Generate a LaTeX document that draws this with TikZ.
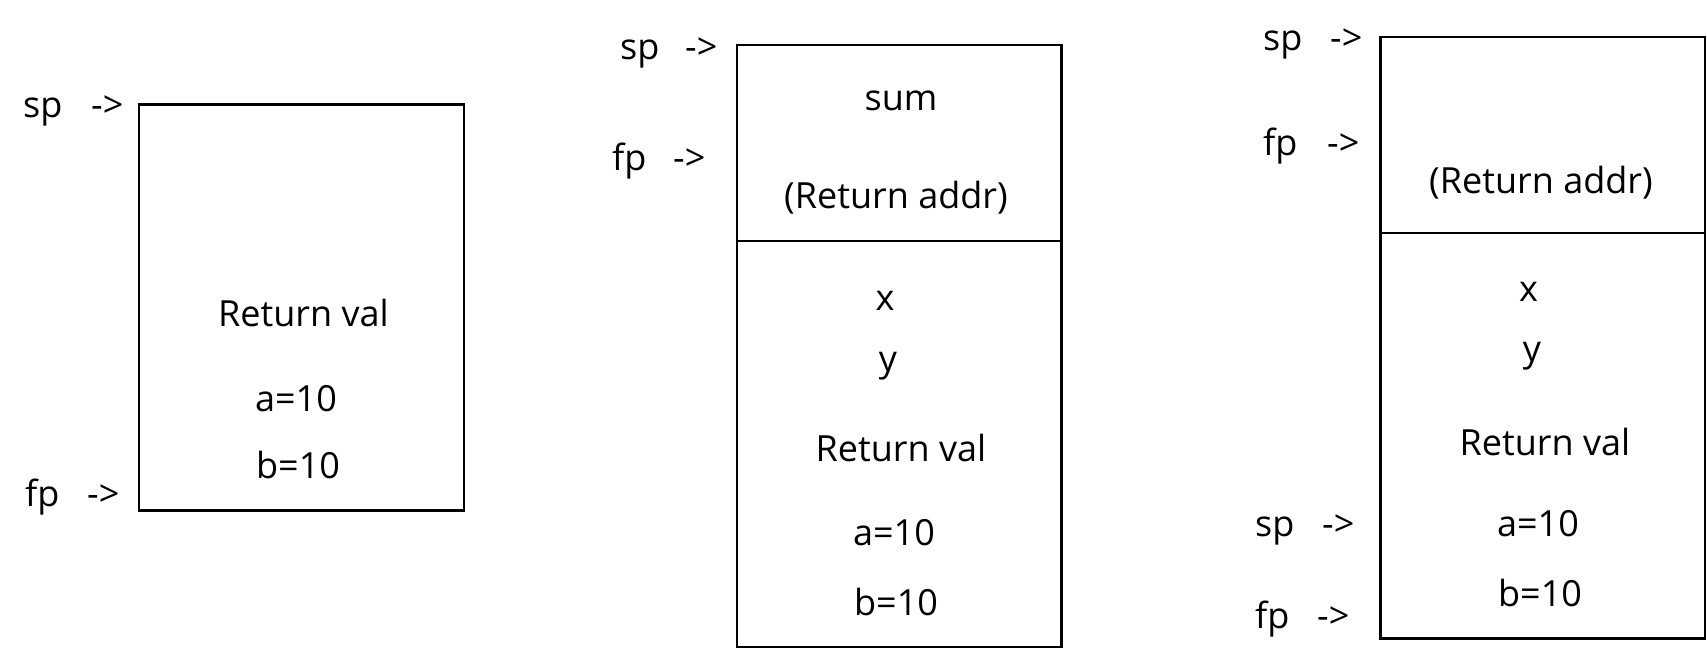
\documentclass[tikz,border=0pt]{standalone}
\usepackage{fontspec}
\setmainfont{Open Sans}
\begin{document}
\begin{tikzpicture}[x=1pt,y=-1pt,
  frame/.style={draw=black, line width=2.2pt, rectangle, inner sep=0pt, anchor=north west},
  lbl/.style={inner sep=0pt, anchor=base west, font=\fontsize{36}{43}\selectfont},
  txt/.style={inner sep=0pt, anchor=base, font=\fontsize{36}{43}\selectfont}]
\useasboundingbox (0,0) rectangle (1707,662);
% ---- panel 1
\node[frame, minimum width=325pt, minimum height=406pt] (b1) at (137.7,103.3) {};
\node[lbl] (sp1) at (23,117) {sp};
\node[lbl] (sp1a) at (91,117) {->};
\node[lbl] (fp1) at (25,506) {fp};
\node[lbl] (fp1a) at (87,506) {->};
\node[txt] (rv1) at (303.5,326.7) {Return val};
\node[txt] (a1) at (296,411.7) {a=10};
\node[txt] (b1t) at (298,478.3) {b=10};
% ---- panel 2
\node[frame, minimum width=324.3pt, minimum height=196.5pt] (b2top) at (736,43.5) {};
\node[frame, minimum width=324.3pt, minimum height=405.7pt] (b2bot) at (736,240) {};
\node[lbl] (sp2) at (620,59.3) {sp};
\node[lbl] (sp2a) at (685,59.3) {->};
\node[lbl] (fp2) at (612,170) {fp};
\node[lbl] (fp2a) at (673,170) {->};
\node[txt] (sum2) at (901,110.7) {sum};
\node[txt] (ra2) at (896,208.3) {(Return addr)};
\node[txt] (x2) at (885,310) {x};
\node[txt] (y2) at (888,371.7) {y};
\node[txt] (rv2) at (901,461.7) {Return val};
\node[txt] (a2) at (894,545) {a=10};
\node[txt] (bb2) at (896,615) {b=10};
% ---- panel 3
\node[frame, minimum width=324.7pt, minimum height=195.7pt] (b3top) at (1379.3,36) {};
\node[frame, minimum width=324.7pt, minimum height=405.6pt] (b3bot) at (1379.3,231.7) {};
\node[lbl] (sp3) at (1263,50) {sp};
\node[lbl] (sp3a) at (1330,50) {->};
\node[lbl] (fp3) at (1263,155) {fp};
\node[lbl] (fp3a) at (1327,155) {->};
\node[txt] (ra3) at (1541,193.3) {(Return addr)};
\node[txt] (x3) at (1528.5,301.7) {x};
\node[txt] (y3) at (1532,361.7) {y};
\node[txt] (rv3) at (1545,455) {Return val};
\node[txt] (a3) at (1538,536.7) {a=10};
\node[txt] (bb3) at (1540,606.7) {b=10};
\node[lbl] (sp4) at (1255,536.7) {sp};
\node[lbl] (sp4a) at (1322,536.7) {->};
\node[lbl] (fp4) at (1255,628.3) {fp};
\node[lbl] (fp4a) at (1317,628.3) {->};
\end{tikzpicture}
\end{document}
